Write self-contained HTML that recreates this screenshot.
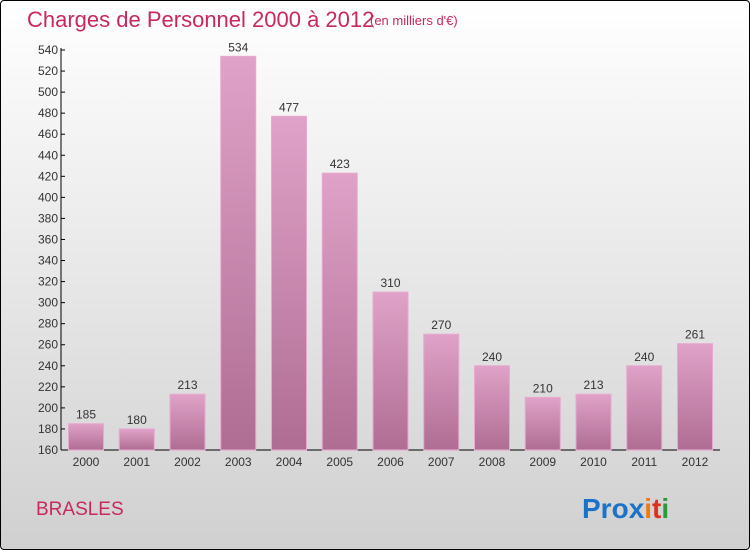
<!DOCTYPE html>
<html><head><meta charset="utf-8"><style>
body{margin:0;width:750px;height:550px;overflow:hidden;font-family:"Liberation Sans",sans-serif}
#wrap{position:absolute;left:0;top:0;width:748px;height:548px;border:1px solid #000;border-radius:4px;background:linear-gradient(#ffffff,#d0d0d0)}
</style></head><body>
<div id="wrap">
<svg width="750" height="550" style="position:absolute;left:-1px;top:-1px">
<defs><linearGradient id="bg" x1="0" y1="0" x2="0" y2="1"><stop offset="0" stop-color="#e0a2c8"/><stop offset="1" stop-color="#b06d94"/></linearGradient></defs>
<text x="27" y="27" font-size="22" fill="#c8285e">Charges de Personnel 2000 à 2012</text>
<text x="370" y="25" font-size="13" fill="#c8285e">(en milliers d'€)</text>
<g id="axes"></g><g id="bars"></g>
<text x="36" y="515" font-size="19" fill="#c8285e">BRASLES</text>
<text x="582" y="518" font-size="28" font-weight="bold"><tspan fill="#1a73c8">Pro</tspan><tspan fill="#1a73c8">x</tspan><tspan fill="#f07a10">i</tspan><tspan fill="#e03020">t</tspan><tspan fill="#2a9a3a">i</tspan></text>
</svg></div>
<script>
const years=["2000","2001","2002","2003","2004","2005","2006","2007","2008","2009","2010","2011","2012"];
const values=[185,180,213,534,477,423,310,270,240,210,213,240,261];
const ticks=[160,180,200,220,240,260,280,300,320,340,360,380,400,420,440,460,480,500,520,540];
const NS="http://www.w3.org/2000/svg";
const y=v=>450-(v-160)*400/380;
const x=i=>86+i*50.75;
function mk(t,a,p,txt){const e=document.createElementNS(NS,t);for(const k in a)e.setAttribute(k,a[k]);if(txt!=null)e.textContent=txt;p.appendChild(e);return e;}
const ax=document.getElementById('axes'),bg=document.getElementById('bars');
let l=mk('line',{x1:61,y1:48,x2:61,y2:450,stroke:'#000'},ax);


l=mk('line',{x1:61,y1:450,x2:720,y2:450,stroke:'#000'},ax);


ticks.forEach(t=>{
 const tk=mk('line',{x1:61,y1:y(t),x2:65,y2:y(t),stroke:'#000'},ax);
 
 
 const tl=mk('text',{x:58,y:y(t)+4,'font-size':12,'text-anchor':'end',fill:'#333'},ax,t);
 
 
});
years.forEach((yr,i)=>{
 const v=values[i];
 const r=mk('rect',{x:x(i)-17.5,y:y(v),width:35,height:450-y(v),fill:'url(#bg)',stroke:'#e8a8d0','stroke-width':1},bg);
 
 
 const vl=mk('text',{x:x(i),y:y(v)-5,'font-size':12,'text-anchor':'middle',fill:'#333'},bg,v);
 
 
 const xl=mk('text',{x:x(i),y:466,'font-size':12,'text-anchor':'middle',fill:'#333'},bg,yr);
 
 
});
</script>
</body></html>
